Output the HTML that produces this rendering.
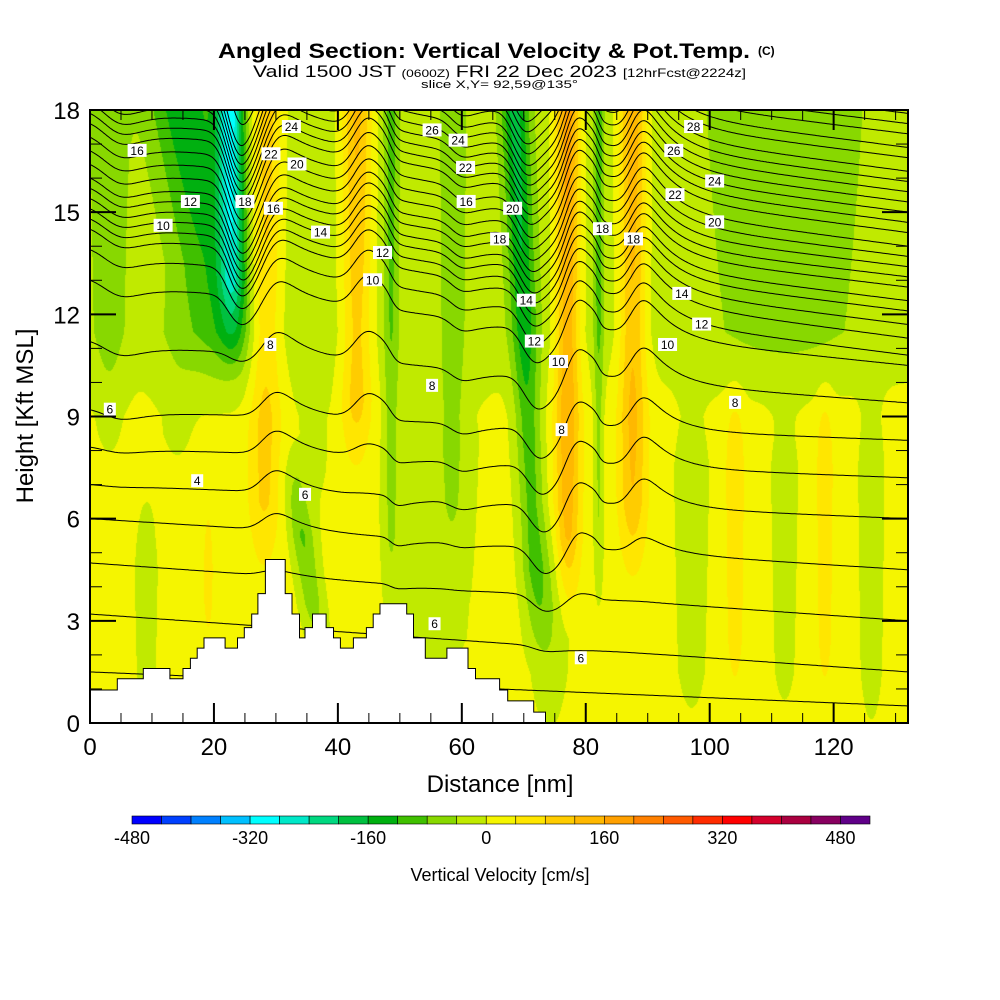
<!DOCTYPE html>
<html><head><meta charset="utf-8">
<style>
html,body{margin:0;padding:0;background:#fff;}
#wrap{position:relative;width:1000px;height:1000px;overflow:hidden;font-family:"Liberation Sans",sans-serif;}
#field{position:absolute;left:90px;top:110px;}
svg{position:absolute;left:0;top:0;}
</style></head>
<body>
<div id="wrap">
<canvas id="field" width="818" height="613"></canvas>
<svg id="svg" width="1000" height="1000">
  <text x="218" y="58" font-size="21" font-weight="bold" textLength="532" lengthAdjust="spacingAndGlyphs">Angled Section: Vertical Velocity &amp; Pot.Temp.</text>
  <text x="758" y="55" font-size="12" font-weight="bold">(C)</text>
  <text x="253" y="77" font-size="17" textLength="493" lengthAdjust="spacingAndGlyphs">Valid 1500 JST <tspan font-size="11">(0600Z)</tspan> FRI 22 Dec 2023 <tspan font-size="12">[12hrFcst@2224z]</tspan></text>
  <text x="421" y="88" font-size="11" textLength="157" lengthAdjust="spacingAndGlyphs">slice X,Y= 92,59@135°</text>
  <g id="contours"></g>
  <polygon id="terrain" fill="#fff" stroke="#000" stroke-width="1"></polygon>
  <g id="labels"></g>
  <rect x="90" y="110" width="818" height="613" fill="none" stroke="#000" stroke-width="2"></rect>
  <g id="axes"></g>
  <text x="500" y="792" font-size="24" text-anchor="middle">Distance [nm]</text>
  <text transform="translate(33,416) rotate(-90)" font-size="24" text-anchor="middle">Height [Kft MSL]</text>
  <g id="cbar"></g>
  <text x="500" y="881" font-size="18" text-anchor="middle">Vertical Velocity [cm/s]</text>
</svg>
</div>
<script>
// ---- data ----
// stripes: [xBottom nm, xTop nm, halfWidth nm, amplitude cm/s, zLow kft, zHigh kft]
const stripeXBot = [3, 22, 23, 28, 43, 48.5, 58.5, 72, 77, 82, 87.5, 112, 104, 118.5, 37, 9, 19, 74, 97, 112, 126, 55, 14, 36];
const stripeXTop = [3, 15, 22.5, 28.5, 43, 48.5, 58.5, 68.5, 77, 82, 87.5, 112, 104, 118.5, 33, 9, 19, 74, 97, 112, 126, 55, 14, 36];
const stripeWidth = [3, 5.5, 2.2, 2.5, 2.5, 1.2, 2, 2.2, 2, 0.8, 2.2, 12, 1.5, 1.3, 2, 2, 1, 3, 3, 2.5, 2, 8, 4, 3];
const stripeAmp = [-55, -130, -280, 120, 150, -80, -60, -160, 200, -90, 170, -60, 70, 70, -110, -40, 50, -60, -40, -35, -50, -40, -30, -35];
const stripeZLo = [8, 10, 11.5, 5, 8, 4, 5, 3, 4, 4, 5, 10, 1, 1, 2, 0, 2, 0, 0, 0, 0, 1, 7, 6];
const stripeZHi = [18, 18, 18, 18, 18, 18, 18, 18, 18, 18, 18, 18, 9, 9, 7, 6, 6, 5, 9, 9, 9, 10, 12, 11];
const baseVelocity = 15;
const upperBaseShift = -35;
// terrain steps: [start nm, height kft]
const terrainX = [0, 4.4, 8.6, 12.9, 15.0, 16.2, 17.3, 18.4, 21.8, 23.8, 24.9, 26.1, 27.1, 28.3, 31.5, 32.6, 33.8, 34.7, 35.9, 38.1, 39.3, 40.4, 42.5, 44.6, 45.7, 46.8, 47.9, 51.1, 52.2, 54.1, 55.4, 57.6, 61.0, 62.2, 66.1, 67.4, 71.6];
const terrainZ = [0.97, 1.3, 1.6, 1.3, 1.6, 1.9, 2.2, 2.5, 2.2, 2.5, 2.8, 3.2, 3.8, 4.8, 3.8, 3.2, 2.5, 2.8, 3.2, 2.8, 2.5, 2.2, 2.5, 2.8, 3.2, 3.5, 3.5, 3.2, 2.5, 1.9, 1.9, 2.2, 1.6, 1.3, 0.97, 0.65, 0.32];
// theta contour heights at left (x=0) and right (x=132) edges, kft
const thetaLeft = [1.5,3.2,4.7,6.0,7.0,8.1,9.2,11.2,13.0,13.9,14.5,14.8,15.1,15.4,15.7,16.0,16.4,16.8,17.2,17.6,17.9,18.2,18.5,18.8,19.1,19.4,19.7,20.0,20.3,20.6,20.9,21.2];
const thetaRight = [0.5,1.5,3.0,4.5,6.0,7.2,8.3,9.4,10.5,10.8,11.3,11.7,12.1,12.4,12.8,13.1,13.4,13.7,14.0,14.4,14.7,15.0,15.3,15.6,15.9,16.2,16.6,16.9,17.3,17.6,17.9,18.2];
// contour labels: text, x nm, z kft
const labelText = ["16","12","10","18","22","20","24","16","14","12","10","8","26","24","22","16","18","20","14","12","10","8","18","18","28","26","24","22","20","14","12","10","8","8","6","4","6","6","6"];
const labelX = [7.6,16.2,11.8,25.0,29.2,33.4,32.5,29.6,37.2,47.2,45.6,29.1,55.2,59.4,60.6,60.7,66.1,68.2,70.4,71.7,75.6,76.1,82.7,87.7,97.4,94.2,100.8,94.4,100.8,95.5,98.7,93.2,104.1,55.2,3.2,17.3,34.7,55.6,79.2];
const labelZ = [16.8,15.3,14.6,15.3,16.7,16.4,17.5,15.1,14.4,13.8,13.0,11.1,17.4,17.1,16.3,15.3,14.2,15.1,12.4,11.2,10.6,8.6,14.5,14.2,17.5,16.8,15.9,15.5,14.7,12.6,11.7,11.1,9.4,9.9,9.2,7.1,6.7,2.9,1.9];
const xTicks = [0,20,40,60,80,100,120];
const yTicks = [0,3,6,9,12,15,18];
const cbarTicks = [-480,-320,-160,0,160,320,480];
const cbarColors = ["#0000ff","#0040ff","#0080ff","#00c0ff","#00ffff","#00e8c8","#00d880","#00c040","#00b010","#40c000","#88d800","#c0ea00","#f5f500","#ffe600","#ffcc00","#ffb800","#ffa000","#ff8000","#ff5a00","#ff2c00","#ff0000","#d4002c","#aa0040","#880060","#600088"];
const vMin = -480, vStep = 40;

// ---- scales ----
const X0=90, X1=908, Y0=723, Y1=110, XMAX=132, ZMAX=18;
const sx = x => X0 + x/XMAX*(X1-X0);
const sz = z => Y0 - z/ZMAX*(Y0-Y1);
const NS="http://www.w3.org/2000/svg";

function env(i,z){
  const lo=stripeZLo[i], hi=stripeZHi[i];
  if(z<lo-1.5||z>hi+1.5) return 0;
  let a = Math.min(1,Math.max(0,(z-lo+1.5)/3));
  let b = hi>=18?1:Math.min(1,Math.max(0,(hi+1.5-z)/3));
  let g = 0.55+0.45*(z-lo)/Math.max(1,(hi-lo));
  return a*b*Math.min(1.1,g);
}
function stripeVal(i,x,z){
  const lo=stripeZLo[i], hi=stripeZHi[i];
  const t = Math.min(1,Math.max(0,(z-lo)/Math.max(0.1,hi-lo)));
  const xc = stripeXBot[i]+(stripeXTop[i]-stripeXBot[i])*t;
  const d=(x-xc)/stripeWidth[i];
  return stripeAmp[i]*Math.exp(-d*d)*env(i,z);
}
function vel(x,z){
  const s=Math.min(1,Math.max(0,(z-9)/2.5));
  let v=baseVelocity+upperBaseShift*s;
  for(let i=0;i<stripeAmp.length;i++) v+=stripeVal(i,x,z);
  return v;
}
function velNarrow(x,z){
  let v=0;
  for(let i=0;i<stripeAmp.length;i++) if(stripeWidth[i]<=3 && stripeZHi[i]>=18) v+=stripeVal(i,x,z);
  return v;
}

// ---- field canvas ----
(function(){
  const c=document.getElementById('field'), ctx=c.getContext('2d');
  const W=c.width,H=c.height, img=ctx.createImageData(W,H);
  const rgb=cbarColors.map(h=>[parseInt(h.substr(1,2),16),parseInt(h.substr(3,2),16),parseInt(h.substr(5,2),16)]);
  for(let py=0;py<H;py++){
    const z=(H-py)/H*ZMAX;
    for(let px=0;px<W;px++){
      const x=px/W*XMAX;
      let k=Math.floor((vel(x,z)-vMin)/vStep);
      k=Math.max(0,Math.min(rgb.length-1,k));
      const o=(py*W+px)*4, col=rgb[k];
      img.data[o]=col[0];img.data[o+1]=col[1];img.data[o+2]=col[2];img.data[o+3]=255;
    }
  }
  ctx.putImageData(img,0,0);
})();

// ---- contours ----
(function(){
  const g=document.getElementById('contours');
  const K=0.0035, decay=0.22, dx=0.25;
  for(let L=0;L<thetaLeft.length;L++){
    let eta=0, pts=[];
    for(let x=0;x<=XMAX+0.001;x+=dx){
      const base=thetaLeft[L]+(thetaRight[L]-thetaLeft[L])*x/XMAX;
      const z=base+eta;
      pts.push(sx(x).toFixed(1)+','+sz(z).toFixed(1));
      eta += K*velNarrow(x,z)*dx - decay*eta*dx;
    }
    const p=document.createElementNS(NS,'polyline');
    p.setAttribute('points',pts.join(' '));
    p.setAttribute('fill','none');p.setAttribute('stroke','#000');p.setAttribute('stroke-width','1');
    
    
    g.appendChild(p);
  }
  const cp=document.createElementNS(NS,'clipPath');cp.id='pc';
  const r=document.createElementNS(NS,'rect');r.setAttribute('x',X0);r.setAttribute('y',Y1);r.setAttribute('width',X1-X0);r.setAttribute('height',Y0-Y1);
  cp.appendChild(r);document.getElementById('svg').appendChild(cp);
  g.setAttribute('clip-path','url(#pc)');
})();

// ---- terrain ----
(function(){
  let pts=[[sx(0),Y0]];
  for(let i=0;i<terrainX.length;i++){
    const x0=sx(terrainX[i]), x1=i+1<terrainX.length?sx(terrainX[i+1]):sx(73.5);
    const y=sz(terrainZ[i]);
    pts.push([x0,y]);pts.push([x1,y]);
  }
  pts.push([sx(73.5),Y0]);
  document.getElementById('terrain').setAttribute('points',pts.map(p=>p[0].toFixed(1)+','+p[1].toFixed(1)).join(' '));
})();

// ---- labels ----
(function(){
  const g=document.getElementById('labels');
  for(let i=0;i<labelText.length;i++){
    const x=sx(labelX[i]), y=sz(labelZ[i]);
    const w=labelText[i].length*7+5;
    const r=document.createElementNS(NS,'rect');
    r.setAttribute('x',x-w/2);r.setAttribute('y',y-7);r.setAttribute('width',w);r.setAttribute('height',13);r.setAttribute('fill','#fff');
    
    
    g.appendChild(r);
    const t=document.createElementNS(NS,'text');
    t.setAttribute('x',x);t.setAttribute('y',y+4);t.setAttribute('font-size','12');t.setAttribute('text-anchor','middle');
    t.textContent=labelText[i];
    
    
    g.appendChild(t);
  }
})();

// ---- axes ----
(function(){
  const g=document.getElementById('axes');
  function line(x1,y1,x2,y2,w){const l=document.createElementNS(NS,'line');l.setAttribute('x1',x1);l.setAttribute('y1',y1);l.setAttribute('x2',x2);l.setAttribute('y2',y2);l.setAttribute('stroke','#000');l.setAttribute('stroke-width',w);
    
    
    g.appendChild(l);}
  for(let x=0;x<=XMAX;x+=5){const major=x%20===0;const L=major?20:10;const px=sx(x);
    line(px,Y0,px,Y0-L,major?2:1);line(px,Y1,px,Y1+L,major?2:1);}
  for(let z=0;z<=ZMAX;z+=1){const major=z%3===0;const L=major?26:12;const py=sz(z);
    line(X0,py,X0+L,py,major?2:1);line(X1,py,X1-L,py,major?2:1);}
  xTicks.forEach(v=>{const t=document.createElementNS(NS,'text');t.setAttribute('x',sx(v));t.setAttribute('y',755);t.setAttribute('font-size','24');t.setAttribute('text-anchor','middle');t.textContent=v;
    
    
    g.appendChild(t);});
  yTicks.forEach(v=>{const t=document.createElementNS(NS,'text');t.setAttribute('x',80);t.setAttribute('y',sz(v)+9);t.setAttribute('font-size','24');t.setAttribute('text-anchor','end');t.textContent=v;
    
    
    g.appendChild(t);});
})();

// ---- colorbar ----
(function(){
  const g=document.getElementById('cbar');
  const bx0=132,bx1=870,by=816,bh=8,n=cbarColors.length,bw=(bx1-bx0)/n;
  cbarColors.forEach((c,i)=>{const r=document.createElementNS(NS,'rect');r.setAttribute('x',bx0+i*bw);r.setAttribute('y',by);r.setAttribute('width',bw);r.setAttribute('height',bh);r.setAttribute('fill',c);r.setAttribute('stroke','#000');r.setAttribute('stroke-width','0.6');
    
    
    g.appendChild(r);});
  cbarTicks.forEach(v=>{const t=document.createElementNS(NS,'text');t.setAttribute('x',bx0+(v-vMin)/vStep*bw);t.setAttribute('y',844);t.setAttribute('font-size','18');t.setAttribute('text-anchor','middle');t.textContent=v;
    
    
    g.appendChild(t);});
})();
</script>
</body></html>
